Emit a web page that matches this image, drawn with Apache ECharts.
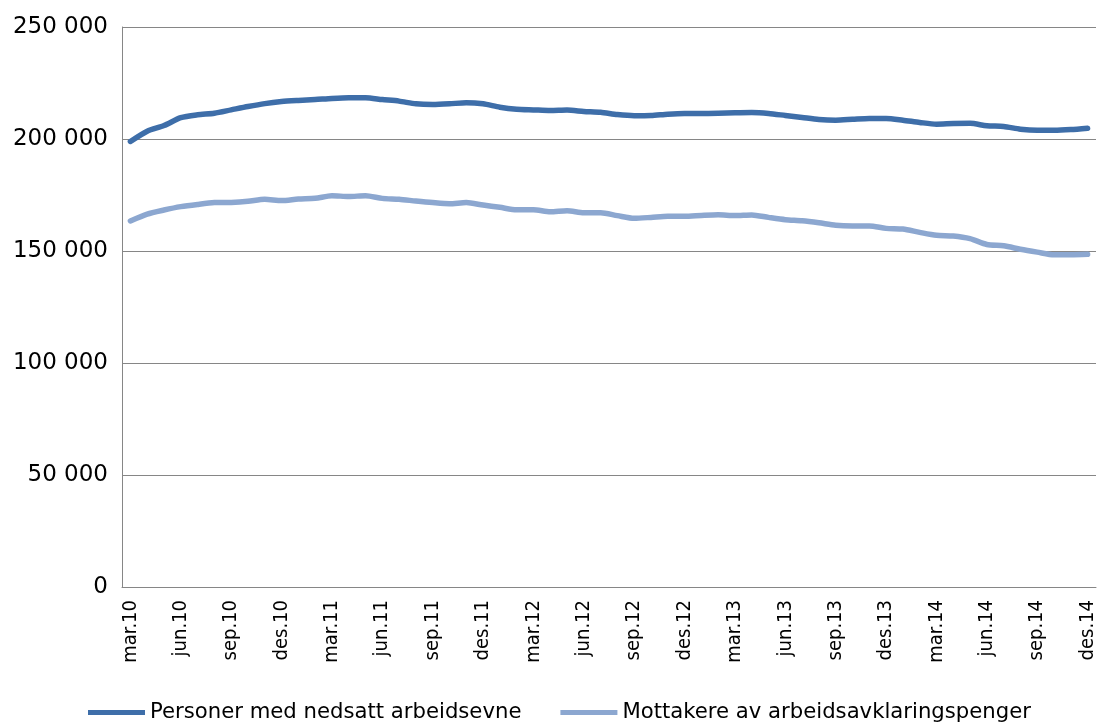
<!DOCTYPE html>
<html>
<head>
<meta charset="utf-8">
<script src="https://cdn.jsdelivr.net/npm/echarts@6/dist/echarts.min.js"></script>
<style>
  html, body { margin: 0; padding: 0; background: #fff; }
  #container { width: 1100px; height: 724px; }
</style>
</head>
<body>
<div id="container"></div>
<script>
// months shown mar.10 .. des.14
var monthNames = ['jan', 'feb', 'mar', 'apr', 'mai', 'jun', 'jul', 'aug', 'sep', 'okt', 'nov', 'des'];
var years = ['10', '11', '12', '13', '14'];

var personer = [198900, 203500, 206000, 209500, 210800, 211500, 213000, 214500, 215800, 216700,
	217200, 217600, 218100, 218400, 218400, 217600, 216900, 215700, 215400, 215700,
	216200, 215700, 214200, 213300, 213000, 212700, 212900, 212300, 211900, 210900,
	210400, 210500, 211100, 211400, 211400, 211500, 211700, 211800, 211400, 210500,
	209600, 208700, 208400, 208800, 209200, 209200, 208400, 207400, 206600, 206900,
	207000, 205900, 205600, 204400, 203900, 203900, 204200, 204800];

var mottakere = [163400, 166500, 168300, 169800, 170800, 171600, 171700, 172200, 173100, 172500,
	173200, 173500, 174700, 174300, 174700, 173500, 173100, 172300, 171600, 171100,
	171600, 170500, 169500, 168400, 168400, 167500, 168000, 167100, 167100, 165800,
	164600, 165000, 165500, 165500, 165900, 166200, 165800, 166100, 165000, 164000,
	163500, 162600, 161500, 161200, 161200, 160100, 159800, 158300, 157000, 156700,
	155500, 152900, 152300, 150800, 149500, 148300, 148300, 148500];

var seriesNames = ['Personer med nedsatt arbeidsevne', 'Mottakere av arbeidsavklaringspenger'];

var categories = [];
for (var y = 0; y < years.length; y++) {
	for (var m = 0; m < 12; m++) {
		if (y === 0 && m < 2) continue;
		categories.push(monthNames[m] + '.' + years[y]);
	}
}

var myChart = echarts.init(document.getElementById('container'));
var option = {
	backgroundColor: '#ffffff',
	animation: false,
	grid: {
		left: 122,
		right: 4,
		top: 27,
		bottom: 137,
		containLabel: false,
		outerBoundsMode: 'none'
	},
	legend: {
		left: 88,
		top: 702,
		padding: 0,
		itemWidth: 57,
		itemHeight: 5,
		itemGap: 39,
		icon: 'rect',
		textStyle: {
			fontFamily: 'DejaVu Sans',
			fontSize: 21.2,
			color: '#000'
		},
		data: seriesNames
	},
	xAxis: {
		type: 'category',
		boundaryGap: true,
		data: categories,
		axisLine: { lineStyle: { color: '#868686', width: 1 } },
		axisTick: { show: false },
		axisLabel: {
			interval: 2,
			rotate: 90,
			margin: 13,
			color: '#000',
			fontFamily: '"DejaVu Sans Condensed", "Liberation Sans", sans-serif',
			fontSize: 20
		}
	},
	yAxis: {
		type: 'value',
		min: 0,
		max: 250000,
		interval: 50000,
		axisLine: { show: true, lineStyle: { color: '#868686', width: 1 } },
		axisTick: { show: false },
		splitLine: { lineStyle: { color: '#868686', width: 1 } },
		axisLabel: {
			margin: 14,
			color: '#000',
			fontFamily: 'DejaVu Sans',
			fontSize: 23,
			formatter: function (v) {
				return String(v).replace(/\B(?=(\d{3})+(?!\d))/g, ' ');
			}
		}
	},
	series: [
		{
			name: seriesNames[0],
			type: 'line',
			data: personer,
			smooth: 0.25,
			showSymbol: false,
			symbol: 'none',
			color: '#3e6ea9',
			lineStyle: { width: 5.5, color: '#3e6ea9', cap: 'round', join: 'round' }
		},
		{
			name: seriesNames[1],
			type: 'line',
			data: mottakere,
			smooth: 0.25,
			showSymbol: false,
			symbol: 'none',
			color: '#8ca7d0',
			lineStyle: { width: 5.5, color: '#8ca7d0', cap: 'round', join: 'round' }
		}
	]
};
myChart.setOption(option);
</script>
</body>
</html>
